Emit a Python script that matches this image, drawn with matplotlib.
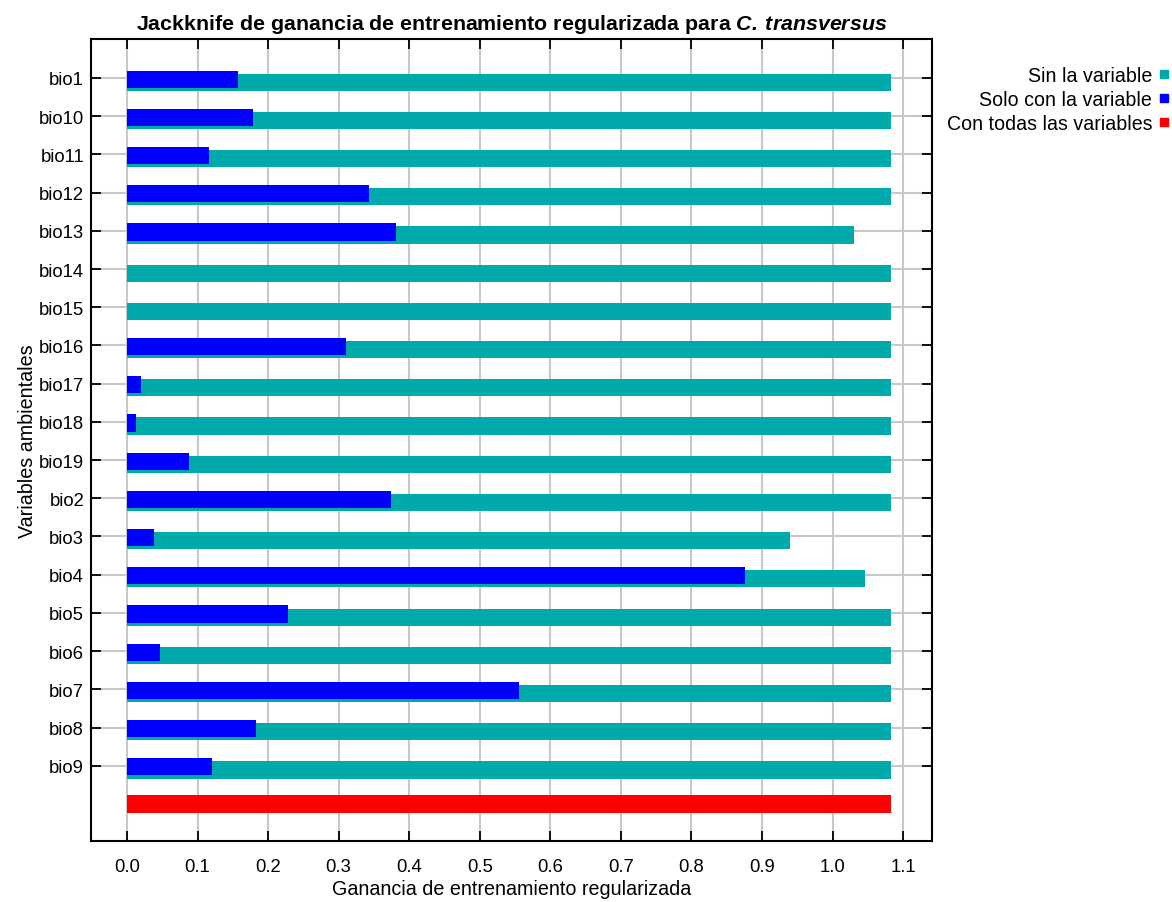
import matplotlib
matplotlib.use('Agg')
import matplotlib.pyplot as plt
from matplotlib.lines import Line2D
import numpy as np

plt.rcParams['font.family'] = ['Liberation Sans', 'DejaVu Sans']
plt.rcParams['mathtext.fontset'] = 'custom'
plt.rcParams['mathtext.bfit'] = 'Liberation Sans:italic:bold'

variables = ['bio1', 'bio10', 'bio11', 'bio12', 'bio13', 'bio14', 'bio15', 'bio16', 'bio17',
             'bio18', 'bio19', 'bio2', 'bio3', 'bio4', 'bio5', 'bio6', 'bio7', 'bio8', 'bio9']
sin_la_variable = [1.083, 1.083, 1.083, 1.083, 1.030, 1.083, 1.083, 1.083, 1.083,
                   1.083, 1.083, 1.083, 0.940, 1.046, 1.083, 1.083, 1.083, 1.083, 1.083]
solo_con_variable = [0.157, 0.179, 0.116, 0.343, 0.381, 0.0, 0.0, 0.310, 0.020,
                     0.013, 0.088, 0.374, 0.038, 0.876, 0.228, 0.047, 0.556, 0.183, 0.120]
con_todas = 1.083

TEAL = '#00AAAA'
BLUE = '#0000FF'
RED = '#FF0000'

fig = plt.figure(figsize=(11.72, 9.03), dpi=100)
ax = fig.add_axes([91 / 1172, 1 - 842 / 903, (932 - 91) / 1172, (842 - 40) / 903])

y = np.arange(len(variables))
h = 0.45
ax.barh(y + 0.11, sin_la_variable, height=h, color=TEAL, zorder=2)
ax.barh(y + 0.03, solo_con_variable, height=h, color=BLUE, zorder=3)
ax.barh([len(variables)], [con_todas], height=h, color=RED, zorder=2)

ax.set_xlim(-0.051, 1.141)
ax.set_ylim(19.97, -1.02)
xt = np.round(np.arange(0, 1.11, 0.1), 1)
ax.set_xticks(xt)
ax.set_xticklabels([f'{v:.1f}' for v in xt])
ax.set_yticks(y)
ax.set_yticklabels(variables)

ax.grid(True, color='#c8c8c8', linewidth=1.5, zorder=0)
ax.set_axisbelow(True)
ax.tick_params(direction='in', length=7, width=1.3, top=True, right=True,
               labelsize=13.3, colors='black')
ax.tick_params(axis='x', pad=12)
ax.tick_params(axis='y', pad=5)
for s in ax.spines.values():
    s.set_linewidth(1.5)

ax.set_title(r'Jackknife de ganancia de entrenamiento regularizada para $\mathbfit{C.\,transversus}$',
             fontsize=15.4, fontweight='bold', pad=7)
ax.set_xlabel('Ganancia de entrenamiento regularizada', fontsize=14.2, labelpad=3)
ax.set_ylabel('Variables ambientales', fontsize=14.2, labelpad=1)

handles = [Line2D([], [], linestyle='none', marker='s', markersize=6, color=c)
           for c in (TEAL, BLUE, RED)]
fig.legend(handles, ['Sin la variable', 'Solo con la variable', 'Con todas las variables'],
           loc='upper right', bbox_to_anchor=(1.008, 1 - 55 / 903), frameon=False,
           markerfirst=False, fontsize=14.1, handlelength=0.6, handletextpad=0.3,
           labelspacing=0.25, borderaxespad=0.2)

fig.savefig('out.png', dpi=100)
